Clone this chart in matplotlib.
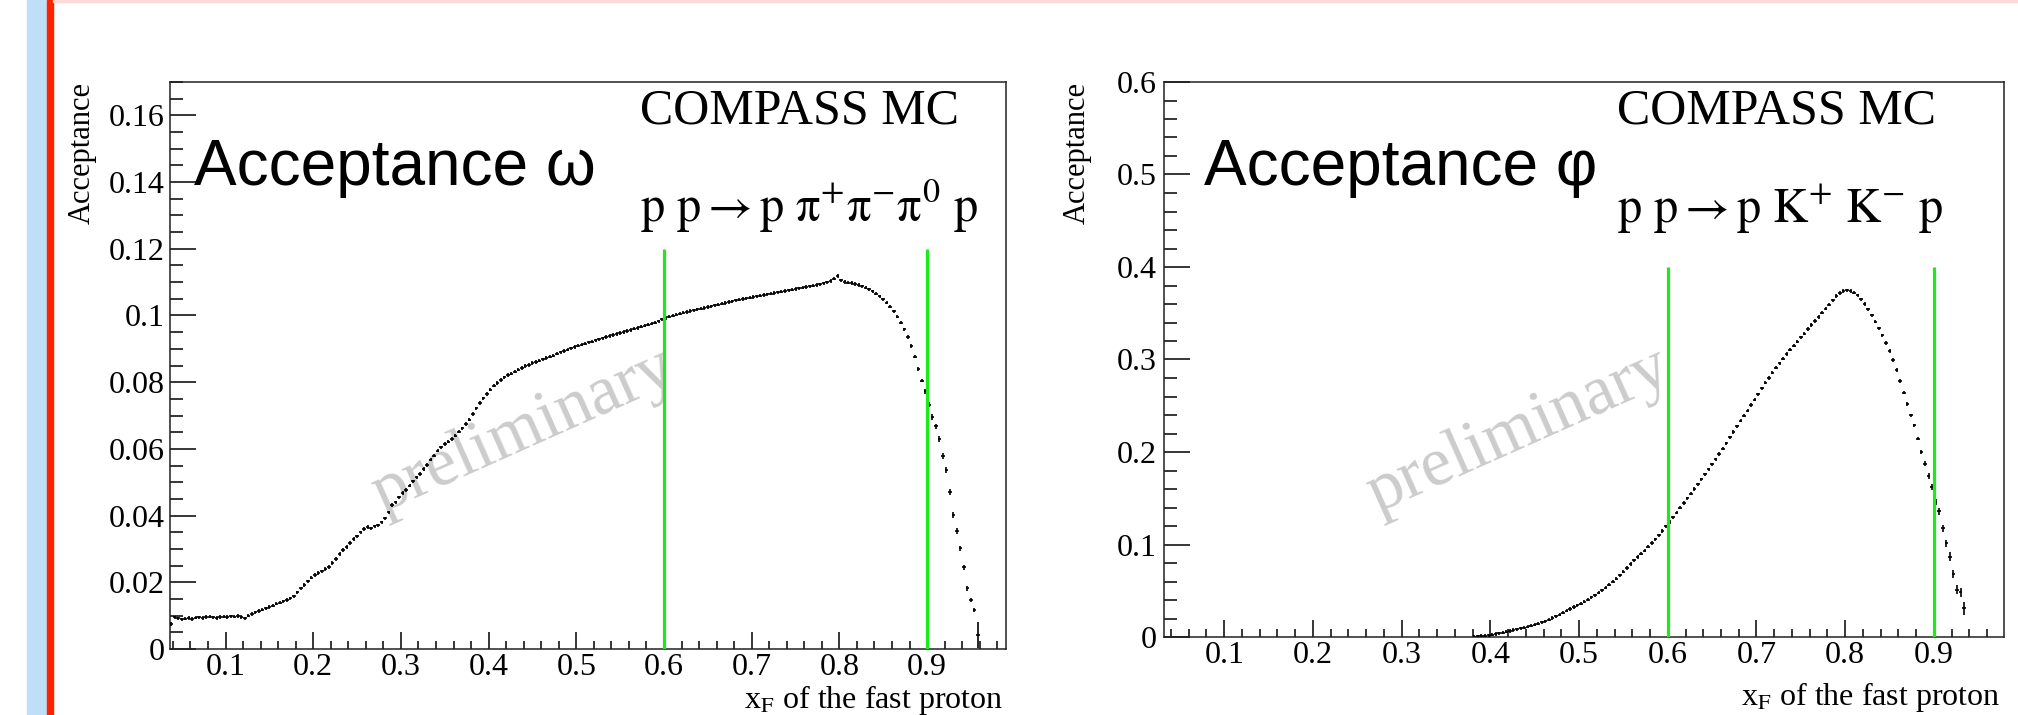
import numpy as np
import matplotlib
matplotlib.use('Agg')
import matplotlib.pyplot as plt
from matplotlib.ticker import MultipleLocator, FuncFormatter
from matplotlib.patches import Rectangle

plt.rcParams['font.family'] = ['Liberation Serif', 'DejaVu Serif']
plt.rcParams['mathtext.fontset'] = 'stix'

# histogram binning (bin centres start / width)
bin_w = 0.004
omega_x0 = 0.038
phi_x0 = 0.382

# acceptance omega, one value per bin
omega_acc = [
    0.0075, 0.0095, 0.0092, 0.0089, 0.0091, 0.0093, 0.0090, 0.0094, 0.0095, 0.0093,
    0.0096, 0.0097, 0.0095, 0.0093, 0.0096, 0.0097, 0.0096, 0.0098, 0.0097, 0.0099,
    0.0096, 0.0092, 0.0100, 0.0105, 0.0110, 0.0114, 0.0118, 0.0122, 0.0126, 0.0130,
    0.0136, 0.0139, 0.0143, 0.0147, 0.0152, 0.0158, 0.0170, 0.0182, 0.0192, 0.0203,
    0.0214, 0.0222, 0.0228, 0.0233, 0.0240, 0.0246, 0.0258, 0.0270, 0.0285, 0.0297,
    0.0306, 0.0318, 0.0330, 0.0338, 0.0350, 0.0360, 0.0366, 0.0362, 0.0368, 0.0371,
    0.0380, 0.0392, 0.0410, 0.0432, 0.0440, 0.0455, 0.0468, 0.0477, 0.0490, 0.0503,
    0.0515, 0.0525, 0.0540, 0.0552, 0.0568, 0.0580, 0.0595, 0.0605, 0.0615, 0.0622,
    0.0630, 0.0640, 0.0652, 0.0662, 0.0675, 0.0688, 0.0705, 0.0722, 0.0738, 0.0752,
    0.0765, 0.0778, 0.0790, 0.0798, 0.0807, 0.0815, 0.0822, 0.0826, 0.0832, 0.0838,
    0.0843, 0.0848, 0.0852, 0.0857, 0.0860, 0.0864, 0.0868, 0.0872, 0.0876, 0.0879,
    0.0885, 0.0889, 0.0893, 0.0897, 0.0901, 0.0905, 0.0909, 0.0912, 0.0915, 0.0919,
    0.0921, 0.0925, 0.0928, 0.0931, 0.0935, 0.0938, 0.0941, 0.0944, 0.0947, 0.0950,
    0.0953, 0.0956, 0.0960, 0.0962, 0.0966, 0.0969, 0.0972, 0.0975, 0.0978, 0.0982,
    0.0988, 0.0992, 0.0996, 0.0999, 0.1002, 0.1005, 0.1008, 0.1010, 0.1013, 0.1015,
    0.1018, 0.1020, 0.1022, 0.1025, 0.1027, 0.1030, 0.1032, 0.1035, 0.1037, 0.1040,
    0.1042, 0.1045, 0.1047, 0.1049, 0.1051, 0.1053, 0.1055, 0.1057, 0.1059, 0.1061,
    0.1063, 0.1065, 0.1067, 0.1069, 0.1071, 0.1073, 0.1075, 0.1077, 0.1079, 0.1081,
    0.1083, 0.1085, 0.1087, 0.1089, 0.1091, 0.1093, 0.1096, 0.1099, 0.1103, 0.1110,
    0.1118, 0.1105, 0.1100, 0.1098, 0.1097, 0.1094, 0.1091, 0.1087, 0.1083, 0.1078,
    0.1072, 0.1065, 0.1057, 0.1048, 0.1038, 0.1026, 0.1012, 0.0996, 0.0978, 0.0958,
    0.0935, 0.0908, 0.0876, 0.0840, 0.0805, 0.0773, 0.0733, 0.0696, 0.0668, 0.0630,
    0.0580, 0.0538, 0.0472, 0.0402, 0.0354, 0.0302, 0.0245, 0.0182, 0.0147, 0.0117,
    0.0042,
]
omega_err_tail = [0.0008, 0.0008, 0.0008, 0.0008, 0.0009, 0.0009, 0.0009, 0.0009,
                  0.0009, 0.0009, 0.0008, 0.0008, 0.0008, 0.0007, 0.0007, 0.0040]

# acceptance phi
phi_acc = [
    0.0005, 0.0008, 0.0010, 0.0013, 0.0018, 0.0024, 0.0031, 0.0039, 0.0047, 0.0056,
    0.0065, 0.0074, 0.0084, 0.0093, 0.0102, 0.0111, 0.0121, 0.0132, 0.0144, 0.0157,
    0.0171, 0.0188, 0.0205, 0.0223, 0.0243, 0.0262, 0.0283, 0.0303, 0.0324, 0.0344,
    0.0362, 0.0382, 0.0405, 0.0428, 0.0452, 0.0478, 0.0505, 0.0535, 0.0565, 0.0598,
    0.0632, 0.0668, 0.0705, 0.0745, 0.0788, 0.0828, 0.0865, 0.0900, 0.0935, 0.0975,
    0.1015, 0.1055, 0.1100, 0.1145, 0.1195, 0.1245, 0.1295, 0.1345, 0.1398, 0.1450,
    0.1500, 0.1550, 0.1600, 0.1650, 0.1703, 0.1760, 0.1812, 0.1868, 0.1920, 0.1978,
    0.2035, 0.2095, 0.2158, 0.2218, 0.2278, 0.2338, 0.2392, 0.2448, 0.2508, 0.2565,
    0.2625, 0.2688, 0.2748, 0.2800, 0.2858, 0.2910, 0.2960, 0.3010, 0.3058, 0.3108,
    0.3150, 0.3192, 0.3238, 0.3280, 0.3328, 0.3372, 0.3418, 0.3460, 0.3508, 0.3550,
    0.3592, 0.3640, 0.3685, 0.3720, 0.3742, 0.3748, 0.3742, 0.3722, 0.3692, 0.3650,
    0.3600, 0.3542, 0.3478, 0.3410, 0.3338, 0.3262, 0.3180, 0.3092, 0.2995, 0.2888,
    0.2768, 0.2640, 0.2520, 0.2395, 0.2287, 0.2144, 0.2000, 0.1874, 0.1738, 0.1623,
    0.1460, 0.1360, 0.1174, 0.1013, 0.0869, 0.0682, 0.0510, 0.0485, 0.0312,
]
phi_err_tail = [0.003, 0.003, 0.0035, 0.0035, 0.004, 0.004, 0.004, 0.0045,
                0.0045, 0.005, 0.005, 0.007]

cuts = [0.6, 0.9]
titles = ['Acceptance ω', 'Acceptance φ']
reactions = [r'$\mathrm{p\ p}\rightarrow\mathrm{p}\ \mathrm{\pi^{+}\pi^{-}\pi^{0}}\ \mathrm{p}$',
             r'$\mathrm{p\ p}\rightarrow\mathrm{p\ K^{+}\ K^{-}\ p}$']

W, H = 2018, 715


def fx(px):
    return px / W


def fy(py):
    return 1 - py / H


fig = plt.figure(figsize=(W / 100, H / 100), dpi=100)

# slide decorations at the left / top
fig.patches.append(Rectangle((fx(27), 0), 20 / W, 1, transform=fig.transFigure,
                             color='#bfdff9', zorder=0))
fig.patches.append(Rectangle((fx(47), 0), 6 / W, 1, transform=fig.transFigure,
                             color='#ff2200', zorder=0))
fig.patches.append(Rectangle((fx(53), fy(2)), 1, 2 / H, transform=fig.transFigure,
                             color='#ffd8d8', zorder=0))

ax1 = fig.add_axes([fx(170), fy(649), (1006 - 170) / W, (649 - 82) / H])
ax2 = fig.add_axes([fx(1164), fy(637), (2004 - 1164) / W, (637 - 82) / H])

fmt = FuncFormatter(lambda v, p: '%g' % round(v, 6))


def draw(ax, x0, acc, err_base, err_tail, xlim, ylim, ymaj, ymin, ycut, xpad, ypad):
    acc = np.array(acc)
    x = x0 + bin_w * np.arange(len(acc))
    err = np.full(len(acc), err_base)
    err[-len(err_tail):] = err_tail
    ax.errorbar(x, acc, xerr=bin_w / 2, yerr=err, fmt='none', ecolor='black',
                elinewidth=1.2, capsize=0, zorder=3)
    ax.vlines(cuts, 0, ycut, color='#1bea1b', lw=2.3, zorder=4)
    ax.set_xlim(*xlim)
    ax.set_ylim(*ylim)
    ax.xaxis.set_major_locator(MultipleLocator(0.1))
    ax.xaxis.set_minor_locator(MultipleLocator(0.02))
    ax.yaxis.set_major_locator(MultipleLocator(ymaj))
    ax.yaxis.set_minor_locator(MultipleLocator(ymin))
    ax.xaxis.set_major_formatter(fmt)
    ax.yaxis.set_major_formatter(fmt)
    ax.tick_params(axis='both', which='both', direction='in', top=False, right=False,
                   width=1.1, labelsize=23, colors='black')
    ax.tick_params(axis='x', which='major', length=12, pad=xpad)
    ax.tick_params(axis='x', which='minor', length=6)
    ax.tick_params(axis='y', which='major', length=19, pad=ypad)
    ax.tick_params(axis='y', which='minor', length=9.5)
    for s in ax.spines.values():
        s.set_linewidth(1.1)
        s.set_color('#222222')


draw(ax1, omega_x0, omega_acc, 0.0005, omega_err_tail, (0.0367, 0.990), (0, 0.17),
     0.02, 0.005, 0.12, 3, 4)
draw(ax2, phi_x0, phi_acc, 0.0018, phi_err_tail, (0.0321, 0.979), (0, 0.6),
     0.1, 0.02, 0.4, 3, 5)

# watermark
ax1.text(0.44, 0.0655, 'preliminary', rotation=24, color='#cccccc', fontsize=50,
         ha='center', va='center', rotation_mode='anchor', zorder=1)
ax2.text(0.432, 0.223, 'preliminary', rotation=24, color='#cccccc', fontsize=50,
         ha='center', va='center', rotation_mode='anchor', zorder=1)

# titles and labels placed in pixels of the slide
for tx, cx, ylx, xr, xb, title, reac in [(194, 640, 82, 1003, 708, titles[0], reactions[0]),
                                         (1204, 1617, 1077, 2000, 705, titles[1], reactions[1])]:
    fig.text(fx(tx), fy(185), title, family=['Liberation Sans', 'DejaVu Sans'],
             fontsize=46, ha='left', va='baseline')
    fig.text(fx(cx), fy(124), 'COMPASS MC', fontsize=36, ha='left', va='baseline')
    fig.text(fx(cx), fy(222), reac, fontsize=35, ha='left', va='baseline')
    fig.text(fx(ylx), fy(82), 'Acceptance', fontsize=22, rotation=90,
             ha='center', va='top')
    fig.text(fx(xr), fy(xb), r'x$_{\mathrm{F}}$ of the fast proton', fontsize=23,
             ha='right', va='baseline')

fig.savefig('out.png', dpi=100)
